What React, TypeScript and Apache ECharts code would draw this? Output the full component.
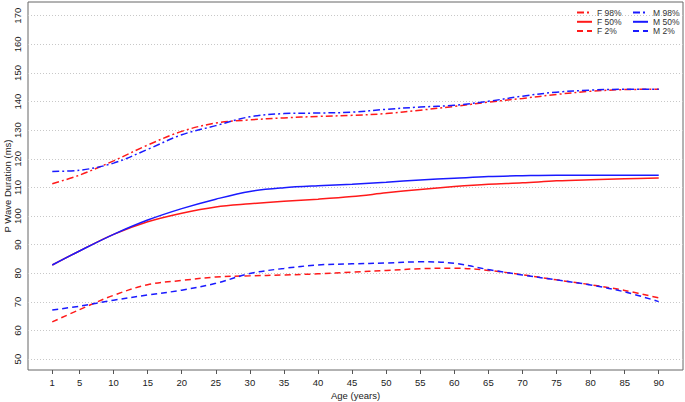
import React, { useEffect, useRef } from "react";
import * as echarts from "echarts";

const ages = [1, 5, 10, 15, 20, 25, 30, 35, 40, 45, 50, 55, 60, 65, 70, 75, 80, 85, 90];
const xTicks = [1, 5, 10, 15, 20, 25, 30, 35, 40, 45, 50, 55, 60, 65, 70, 75, 80, 85, 90];
const yTicks = [50, 60, 70, 80, 90, 100, 110, 120, 130, 140, 150, 160, 170];

const f98 = [111.3, 114.3, 119.3, 124.8, 129.6, 132.5, 133.6, 134.3, 134.8, 135.2, 135.8, 137.0, 138.3, 139.8, 141.1, 142.5, 143.6, 144.2, 144.3];
const f50 = [82.9, 87.8, 93.6, 98.0, 101.0, 103.2, 104.3, 105.2, 105.9, 106.8, 108.1, 109.3, 110.3, 111.1, 111.6, 112.3, 112.7, 113.0, 113.3];
const f2 = [63.0, 67.3, 72.3, 76.0, 77.5, 78.7, 79.1, 79.4, 79.8, 80.4, 81.0, 81.6, 81.8, 81.0, 79.5, 77.7, 76.0, 74.0, 71.4];
const m98 = [115.6, 116.0, 118.5, 123.3, 128.4, 131.6, 134.7, 135.8, 136.0, 136.3, 137.3, 138.1, 138.7, 140.1, 141.9, 143.3, 144.0, 144.3, 144.3];
const m50 = [82.9, 87.8, 93.6, 98.6, 102.6, 105.9, 108.6, 109.9, 110.6, 111.1, 111.8, 112.6, 113.2, 113.8, 114.1, 114.3, 114.3, 114.3, 114.3];
const m2 = [67.2, 68.5, 70.6, 72.4, 74.1, 76.5, 79.9, 81.7, 82.9, 83.3, 83.6, 84.0, 83.5, 81.3, 79.4, 77.7, 75.9, 73.5, 70.1];

const RED = "#ff1a1a";
const BLUE = "#1a1aff";
const DASHDOT = [7, 3, 2, 3];
const DASHED = [6, 4];
const FONT = "'Liberation Sans', Arial, Helvetica, sans-serif";

const seriesDefs = [
  { name: "F 98%", data: f98, color: RED, type: DASHDOT },
  { name: "F 50%", data: f50, color: RED, type: "solid" },
  { name: "F 2%", data: f2, color: RED, type: DASHED },
  { name: "M 98%", data: m98, color: BLUE, type: DASHDOT },
  { name: "M 50%", data: m50, color: BLUE, type: "solid" },
  { name: "M 2%", data: m2, color: BLUE, type: DASHED },
];

export default function App() {
  const ref = useRef<HTMLDivElement>(null);
  useEffect(() => {
    if (!ref.current) return;
    const chart = echarts.init(ref.current, undefined, { renderer: "svg" });
    const lineSeries: any[] = seriesDefs.map((s) => ({
      name: s.name,
      type: "line",
      data: ages.map((a, i) => [a, s.data[i]]),
      smooth: 0.35,
      symbol: "none",
      z: 5,
      lineStyle: { color: s.color, width: 1.5, type: s.type },
      itemStyle: { color: s.color },
    }));
    const gridSeries = {
      name: "grid",
      type: "line",
      data: [],
      silent: true,
      z: 1,
      markLine: {
        silent: true,
        symbol: ["none", "none"],
        label: { show: false },
        lineStyle: { color: "#c8c8c8", type: [1, 2], width: 1 },
        data: yTicks.map((v) => ({ yAxis: v })),
      },
    };
    const legendCommon = {
      orient: "vertical",
      top: 8,
      itemWidth: 15,
      itemHeight: 6.5,
      itemGap: 0.3,
      padding: 0,
      z: 10,
      itemStyle: { opacity: 0 },
      textStyle: { fontSize: 8.5, lineHeight: 6.5, color: "#333", fontFamily: FONT },
    };
    chart.setOption({
      animation: false,
      textStyle: { fontFamily: FONT },
      grid: {
        left: 28,
        right: 2,
        top: 2,
        bottom: 32,
        containLabel: false,
        outerBoundsMode: "none",
        show: true,
        borderColor: "#666",
        borderWidth: 1,
        backgroundColor: "transparent",
      },
      legend: [
        { ...legendCommon, left: 576, data: ["F 98%", "F 50%", "F 2%"] },
        { ...legendCommon, left: 632, data: ["M 98%", "M 50%", "M 2%"] },
      ],
      graphic: [
        {
          type: "rect",
          z: 3,
          shape: { x: 574, y: 4, width: 108, height: 25 },
          style: { fill: "#fff" },
        },
      ],
      xAxis: {
        type: "value",
        min: -2.56,
        max: 93.56,
        name: "Age (years)",
        nameLocation: "middle",
        nameGap: 20,
        nameMoveOverlap: false,
        nameTextStyle: { fontSize: 9.5, color: "#222", fontFamily: FONT },
        axisLine: { show: false },
        splitLine: { show: false },
        axisTick: { show: true, length: 4, customValues: xTicks, lineStyle: { color: "#555" } },
        axisLabel: { customValues: xTicks, fontSize: 9.5, color: "#222", margin: 7, fontFamily: FONT },
      },
      yAxis: {
        type: "value",
        min: 46.2,
        max: 174.8,
        name: "P Wave Duration (ms)",
        nameLocation: "middle",
        nameGap: 16,
        nameMoveOverlap: false,
        nameRotate: 90,
        nameTextStyle: { fontSize: 9.5, color: "#222", fontFamily: FONT },
        axisLine: { show: false },
        splitLine: { show: false },
        axisTick: { show: false },
        axisLabel: { customValues: yTicks, rotate: 90, fontSize: 9.5, color: "#222", margin: 6, fontFamily: FONT },
      },
      series: [gridSeries, ...lineSeries],
    });
    return () => chart.dispose();
  }, []);
  return <div ref={ref} style={{ width: 685, height: 402, position: "absolute", left: 0, top: 0 }} />;
}
